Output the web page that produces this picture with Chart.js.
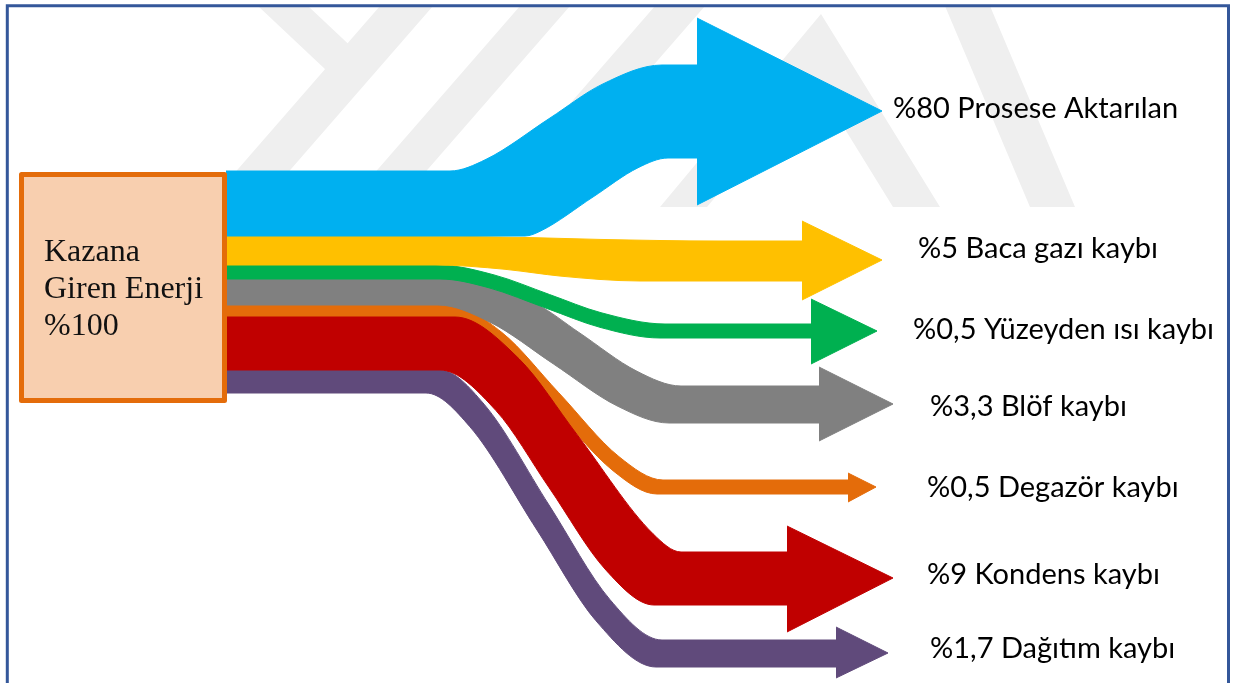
<!DOCTYPE html>
<html lang="tr">
<head>
<meta charset="UTF-8">
<title>Kazan Enerji Dengesi</title>
<script src="https://cdn.jsdelivr.net/npm/chart.js"></script>
<style>
  html, body { margin: 0; padding: 0; background: #fff; }
  canvas { display: block; }
</style>
</head>
<body>
<canvas id="sankey" width="1233" height="683"></canvas>
<script>
// Boiler energy balance, % of the energy entering the boiler
const sourceLines = ['Kazana', 'Giren Enerji'];
const sourceShare = 100;
const flowNames = ['Prosese Aktarılan', 'Baca gazı kaybı', 'Yüzeyden ısı kaybı', 'Blöf kaybı',
                   'Degazör kaybı', 'Kondens kaybı', 'Dağıtım kaybı'];
const flowShares = [80, 5, 0.5, 3.3, 0.5, 9, 1.7];

// ---- layout (diagram units: x to the right, y downwards) ----
const flowColors = ['#00B0F0', '#FFC000', '#00B050', '#808080', '#E46C0A', '#C00000', '#604A7B'];

// band edges: [x start, y start, bend 1 x, bend 1 half-span, bend 2 x, bend 2 half-span, y end, x end]
const upperEdges = [
  [226, 171, 468, 18, 632, 30, 65, 700],
  [226, 236, 470, 60, 660, 60, 241, 805],
  [226, 265, 466, 28, 633, 32, 324, 814],
  [226, 279, 499, 38, 659, 22, 386, 822],
  [226, 305, 476, 26, 641, 22, 480, 851],
  [226, 317, 487, 32, 667, 14, 552, 790],
  [226, 370, 462, 22, 636, 26, 640, 839]
];
const lowerEdges = [
  [226, 236, 533, 8, 653, 15, 158, 700],
  [226, 265, 470, 35, 600, 40, 281, 805],
  [226, 279, 464, 24, 630, 30, 338, 814],
  [226, 305, 464, 26, 643, 26, 423, 822],
  [226, 317, 468, 24, 635, 22, 494, 851],
  [226, 370, 468, 28, 630, 24, 605, 790],
  [226, 393, 448, 22, 626, 30, 667, 839]
];
// arrow heads: base x, head top, head bottom, tip x, tip y
const arrowHeads = [
  [697, 18, 205, 882, 111],
  [802, 221, 300, 882, 260],
  [811, 299, 364, 877, 331],
  [819, 367, 441, 893, 404],
  [848, 473, 502, 876, 487],
  [787, 526, 632, 893, 578],
  [836, 627, 678, 888, 653]
];
// label start point (x, baseline)
const labelAnchors = [[893,118],[918,258],[913,339],[930,416],[927,497],[927,584],[930,658]];
// lower number is painted on top
const flowLayer = [0, 1, 2, 3, 5, 4, 6];

const sourceBox = { x0: 21.5, x1: 224.5, y0: 174.5, y1: 400.5 };
const sourceText = { x: 44, baselines: [261, 298, 335] };

// faint background logo bands
const logoBands = [
  [[205,207],[258,207],[433,6],[380,6]],
  [[258,6],[308,6],[376,70],[326,70]],
  [[345,207],[395,207],[570,6],[520,6]],
  [[480,207],[530,207],[705,6],[655,6]],
  [[660,207],[821,14],[940,207],[893,207],[814,79],[707,207]],
  [[945,6],[990,6],[1075,207],[1030,207]]
];

const pct = v => '%' + String(v).replace('.', ',');

// straight run, rounded bend, straight slope, rounded bend, straight run
function edgePoints([x0, y0, c1, h1, c2, h2, y1, xe]) {
  const k = (y1 - y0) / (c2 - c1);
  return [
    [x0, y0], [c1 - h1, y0], [c1 + h1, y0 + k * h1],
    [(c1 + c2) / 2, (y0 + y1) / 2],
    [c2 - h2, y1 - k * h2], [c2 + h2, y1], [xe, y1]
  ].map(([x, y]) => ({ x, y }));
}

const datasets = [];
flowNames.forEach((name, i) => {
  const c = flowColors[i];
  const common = { label: name, borderColor: c, backgroundColor: c, borderWidth: 1, pointRadius: 0, order: flowLayer[i] };
  datasets.push({ ...common, data: edgePoints(upperEdges[i]), fill: '+1', cubicInterpolationMode: 'monotone' });
  datasets.push({ ...common, data: edgePoints(lowerEdges[i]), fill: false, cubicInterpolationMode: 'monotone' });
  const [bx, top, bottom, tx, ty] = arrowHeads[i];
  datasets.push({ ...common, data: [{ x: bx, y: top }, { x: tx, y: ty }], fill: '+1', tension: 0 });
  datasets.push({ ...common, data: [{ x: bx, y: bottom }, { x: tx, y: ty }], fill: false, tension: 0 });
});

const logoPlugin = {
  id: 'logo',
  beforeDatasetsDraw(chart) {
    const { ctx, scales: { x, y } } = chart;
    ctx.save();
    ctx.fillStyle = '#EFEFEF';
    logoBands.forEach(band => {
      ctx.beginPath();
      band.forEach(([px, py], k) => {
        const X = x.getPixelForValue(px), Y = y.getPixelForValue(py);
        k ? ctx.lineTo(X, Y) : ctx.moveTo(X, Y);
      });
      ctx.closePath();
      ctx.fill();
    });
    ctx.restore();
  }
};

const annotatePlugin = {
  id: 'annotate',
  afterDatasetsDraw(chart) {
    const { ctx, scales: { x, y } } = chart;
    ctx.save();

    // boiler box
    const bx0 = x.getPixelForValue(sourceBox.x0), bx1 = x.getPixelForValue(sourceBox.x1);
    const by0 = y.getPixelForValue(sourceBox.y0), by1 = y.getPixelForValue(sourceBox.y1);
    ctx.fillStyle = '#F8CFAF';
    ctx.fillRect(bx0, by0, bx1 - bx0, by1 - by0);
    ctx.strokeStyle = '#E46C0A';
    ctx.lineWidth = 5;
    ctx.lineJoin = 'round';
    ctx.strokeRect(bx0, by0, bx1 - bx0, by1 - by0);

    ctx.fillStyle = '#111';
    ctx.textBaseline = 'alphabetic';
    ctx.textAlign = 'left';
    ctx.font = '32px "Liberation Serif", "Times New Roman", serif';
    [...sourceLines, pct(sourceShare)].forEach((t, k) => {
      ctx.fillText(t, x.getPixelForValue(sourceText.x), y.getPixelForValue(sourceText.baselines[k]));
    });

    // flow labels
    ctx.fillStyle = '#000';
    ctx.font = '29px Lato, "Noto Sans", sans-serif';
    flowNames.forEach((name, i) => {
      const [lx, ly] = labelAnchors[i];
      ctx.fillText(pct(flowShares[i]) + ' ' + name, x.getPixelForValue(lx), y.getPixelForValue(ly));
    });
    ctx.restore();
  },
  afterDraw(chart) {
    const { ctx, scales: { x, y } } = chart;
    // page frame
    ctx.save();
    ctx.strokeStyle = '#34579A';
    ctx.lineWidth = 3;
    ctx.beginPath();
    ctx.moveTo(x.getPixelForValue(7.3), y.getPixelForValue(700));
    ctx.lineTo(x.getPixelForValue(7.3), y.getPixelForValue(5.8));
    ctx.lineTo(x.getPixelForValue(1228.5), y.getPixelForValue(5.8));
    ctx.lineTo(x.getPixelForValue(1228.5), y.getPixelForValue(700));
    ctx.stroke();
    ctx.restore();
  }
};

new Chart(document.getElementById('sankey'), {
  type: 'line',
  data: { datasets },
  options: {
    responsive: false,
    animation: false,
    events: [],
    layout: { padding: 0 },
    elements: { point: { radius: 0, hoverRadius: 0 } },
    scales: {
      x: { type: 'linear', min: 0, max: 1233, display: false },
      y: { type: 'linear', min: 0, max: 683, reverse: true, display: false }
    },
    plugins: { legend: { display: false }, tooltip: { enabled: false } }
  },
  plugins: [logoPlugin, annotatePlugin]
});
</script>
</body>
</html>
